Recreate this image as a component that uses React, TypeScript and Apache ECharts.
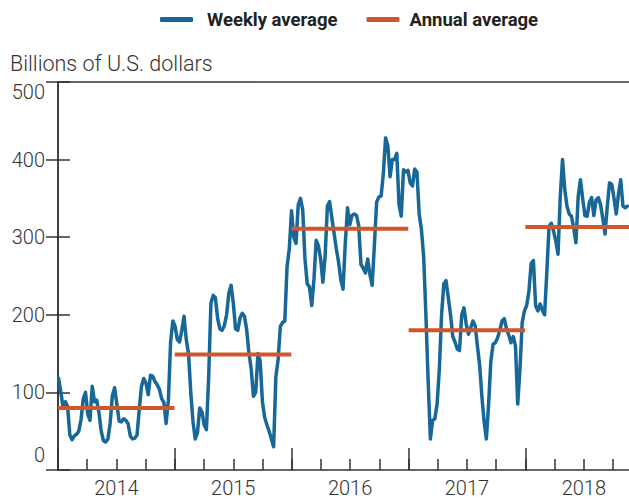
import React, { useEffect, useRef } from "react";
import * as echarts from "echarts";

// ---- Data ----
const DAY = 86400000;
const WEEK_START = Date.UTC(2014, 0, 3); // first weekly observation
const AXIS_START = Date.UTC(2014, 0, 1);
const AXIS_END = Date.UTC(2018, 11, 19);

const weekly2014 = [
  118, 100, 80, 88, 82, 45, 39, 44, 46, 50,
  65, 92, 100, 72, 64, 108, 88, 90, 74, 50,
  38, 36, 40, 60, 96, 106, 85, 63, 62, 66,
  64, 60, 44, 40, 41, 45, 78, 108, 118, 112,
  97, 122, 121, 114, 110, 104, 92, 87, 60, 90,
  165, 192,
];
const weekly2015 = [
  185, 168, 165, 180, 198, 168, 150, 100, 62, 40,
  48, 80, 75, 58, 52, 120, 215, 225, 222, 195,
  182, 180, 186, 200, 228, 238, 215, 182, 180, 196,
  202, 198, 180, 150, 130, 95, 100, 150, 140, 88,
  68, 58, 50, 40, 30, 120, 142, 185, 190, 192,
  262, 285,
];
const weekly2016 = [
  334, 300, 292, 342, 350, 335, 272, 240, 236, 212,
  245, 296, 289, 272, 242, 275, 340, 346, 325, 305,
  285, 268, 245, 233, 292, 338, 316, 328, 330, 328,
  315, 265, 260, 254, 272, 252, 238, 290, 345, 352,
  353, 382, 428, 418, 378, 400, 400, 408, 342, 327,
  387, 384,
];
const weekly2017 = [
  386, 370, 366, 388, 384, 330, 310, 275, 200, 115,
  40, 64, 66, 85, 130, 200, 240, 244, 222, 200,
  172, 165, 156, 154, 200, 209, 188, 175, 183, 192,
  186, 160, 135, 95, 62, 40, 85, 140, 162, 164,
  170, 180, 192, 195, 182, 174, 164, 172, 160, 85,
  130, 190,
];
const weekly2018 = [
  205, 212, 230, 266, 270, 212, 205, 214, 206, 200,
  255, 314, 318, 308, 295, 278, 352, 400, 362, 340,
  330, 327, 312, 293, 352, 374, 350, 328, 327, 345,
  351, 328, 348, 351, 342, 324, 304, 340, 370, 368,
  350, 330, 356, 374, 340, 338, 340,
];

const years = [2014, 2015, 2016, 2017, 2018];
const annualAverage = [80, 149, 311, 180, 313];

const yMin = 0;
const yMax = 500;
const yInterval = 100;

const BLUE = "#176799";
const ORANGE = "#d0562c";
const AXIS = "#333333";
const FONT = "Roboto";

export default function App() {
  const ref = useRef<HTMLDivElement>(null);

  useEffect(() => {
    if (!ref.current) return;
    const chart = echarts.init(ref.current, undefined, { renderer: "svg" });

    const weeklyValues = [
      ...weekly2014,
      ...weekly2015,
      ...weekly2016,
      ...weekly2017,
      ...weekly2018,
    ];
    const weeklyData = weeklyValues.map((v, i) => [WEEK_START + i * 7 * DAY, v]);

    const annualData: any[] = [];
    years.forEach((y, k) => {
      const s = Date.UTC(y, 0, 1);
      const e = Math.min(Date.UTC(y, 11, 31), AXIS_END);
      annualData.push([s, annualAverage[k]]);
      annualData.push([e, annualAverage[k]]);
      annualData.push([Date.UTC(y, 11, 31, 12), null]);
    });

    const spanYears = (AXIS_END - AXIS_START) / DAY / 365.25;
    const spanQuarters = spanYears * 4;

    const hidden = { show: false };
    const legendText = {
      fontFamily: FONT,
      fontSize: 18.5,
      fontWeight: "bold",
      color: "#222",
    };

    chart.setOption({
      animation: false,
      title: {
        text: "Billions of U.S. dollars",
        left: 10,
        top: 52,
        padding: 0,
        textStyle: { fontFamily: FONT, fontSize: 21.5, fontWeight: 300, color: AXIS },
      },
      legend: {
        data: [
          { name: "Weekly average", textStyle: { ...legendText, padding: [0, 0, 0, 9] } },
          { name: "Annual average", textStyle: { ...legendText, padding: [0, 0, 0, 5] } },
        ],
        left: 160,
        top: 10,
        padding: 0,
        icon: "roundRect",
        itemWidth: 33,
        itemHeight: 5,
        itemGap: 29,
        textStyle: { ...legendText, padding: [0, 0, 0, 9] },
      },
      grid: {
        left: 58,
        width: 580,
        top: 82,
        height: 388,
        containLabel: false,
        outerBoundsMode: "none",
      },
      xAxis: [
        {
          type: "time",
          min: AXIS_START,
          max: AXIS_END,
          position: "bottom",
          axisLine: { show: true, lineStyle: { color: AXIS, width: 1.5 } },
          axisTick: hidden,
          axisLabel: hidden,
          splitLine: hidden,
        },
        {
          type: "value",
          min: 0,
          max: spanQuarters,
          interval: 1,
          position: "bottom",
          axisLine: hidden,
          axisTick: { show: true, inside: true, length: 11, lineStyle: { color: AXIS, width: 1.5 } },
          axisLabel: hidden,
          splitLine: hidden,
        },
        {
          type: "value",
          min: 0,
          max: spanYears,
          interval: 1,
          position: "bottom",
          axisLine: hidden,
          axisTick: { show: true, inside: true, length: 22, lineStyle: { color: AXIS, width: 1.5 } },
          axisLabel: hidden,
          splitLine: hidden,
        },
        {
          type: "value",
          min: 0,
          max: spanYears,
          interval: 0.5,
          position: "bottom",
          axisLine: hidden,
          axisTick: hidden,
          splitLine: hidden,
          axisLabel: {
            show: true,
            margin: 10,
            fontFamily: FONT,
            fontSize: 20,
            lineHeight: 16,
            fontWeight: 300,
            color: AXIS,
            showMinLabel: false,
            showMaxLabel: false,
            formatter: (v: number) => {
              const f = Math.round(v * 100) / 100;
              return Math.abs((f % 1) - 0.5) < 0.01 ? String(years[0] + Math.floor(f)) : "";
            },
          },
        },
        {
          type: "value",
          min: 0,
          max: 1,
          position: "top",
          axisLine: { show: true, lineStyle: { color: AXIS, width: 1.5 } },
          axisTick: hidden,
          axisLabel: hidden,
          splitLine: hidden,
        },
      ],
      yAxis: [
        {
          type: "value",
          min: yMin,
          max: yMax,
          interval: yInterval,
          position: "left",
          axisLine: { show: true, lineStyle: { color: AXIS, width: 1.5 } },
          axisTick: { show: true, inside: true, length: 12, lineStyle: { color: AXIS, width: 1.5 } },
          splitLine: hidden,
          axisLabel: {
            show: true,
            margin: 13,
            fontFamily: FONT,
            fontSize: 20,
            fontWeight: 300,
            color: AXIS,
            formatter: (v: number) =>
              v === yMin ? "{lo|" + v + "}" : v === yMax ? "{hi|" + v + "}" : "{n|" + v + "}",
            rich: {
              lo: { fontFamily: FONT, fontSize: 20, fontWeight: 300, color: AXIS, padding: [0, 0, 31, 0] },
              hi: { fontFamily: FONT, fontSize: 20, fontWeight: 300, color: AXIS, padding: [20, 0, 0, 0] },
              n: { fontFamily: FONT, fontSize: 20, fontWeight: 300, color: AXIS },
            },
          },
        },
        {
          type: "value",
          min: yMin,
          max: yMax,
          interval: yInterval,
          position: "right",
          axisLine: { show: true, lineStyle: { color: AXIS, width: 1.5 } },
          axisTick: { show: true, inside: true, length: 12, lineStyle: { color: AXIS, width: 1.5 } },
          axisLabel: hidden,
          splitLine: hidden,
        },
      ],
      series: [
        {
          name: "Weekly average",
          type: "line",
          xAxisIndex: 0,
          yAxisIndex: 0,
          data: weeklyData,
          showSymbol: false,
          symbol: "none",
          itemStyle: { color: BLUE },
          lineStyle: { color: BLUE, width: 3.5, join: "round", cap: "round" },
          z: 2,
        },
        {
          name: "Annual average",
          type: "line",
          xAxisIndex: 0,
          yAxisIndex: 0,
          data: annualData,
          connectNulls: false,
          showSymbol: false,
          symbol: "none",
          itemStyle: { color: ORANGE },
          lineStyle: { color: ORANGE, width: 4 },
          z: 3,
        },
      ],
    });

    return () => chart.dispose();
  }, []);

  return (
    <div
      ref={ref}
      style={{ position: "absolute", left: 0, top: 0, width: 629, height: 499 }}
    />
  );
}
